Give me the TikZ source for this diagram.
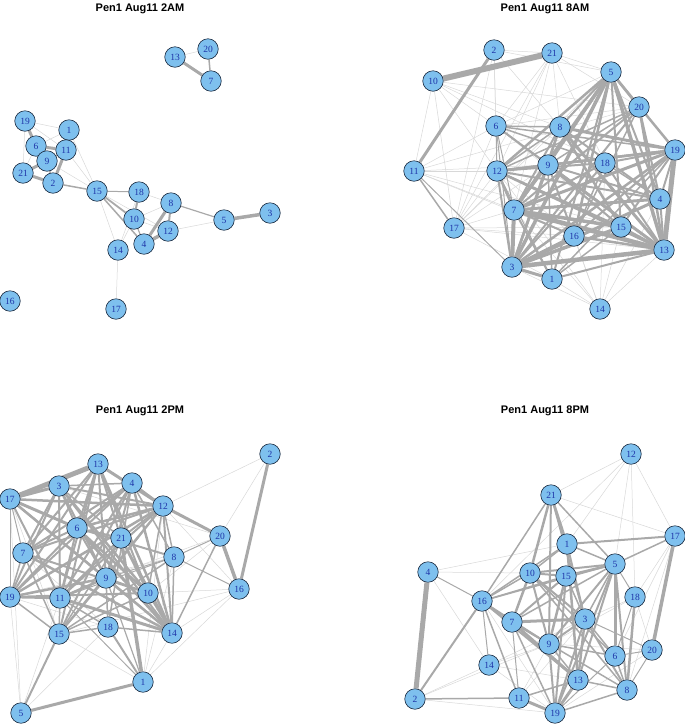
\documentclass[tikz,border=0pt]{standalone}
\usepackage{fontspec}
\setmainfont{Liberation Serif}
\newfontfamily\titlefont{Liberation Sans}
\usetikzlibrary{backgrounds}
\definecolor{vfill}{HTML}{7EC0EE}
\definecolor{vlab}{HTML}{1E34A8}
\definecolor{vline}{HTML}{1A2A40}
\definecolor{egray}{HTML}{A9A9A9}
\definecolor{elight}{HTML}{D8D8D8}
\tikzset{
  vtx/.style={circle, draw=vline, line width=0.6pt, fill=vfill, minimum size=20.5pt, inner sep=0pt, text=vlab, font=\fontsize{9.5}{9.5}\selectfont},
  ttl/.style={font=\titlefont\bfseries\fontsize{11}{13}\selectfont, text=black},
  thinedge/.style={draw=elight, line width=0.5pt},
  wedge/.style={draw=egray},
}
\begin{document}
\begin{tikzpicture}[x=1pt,y=-1pt]
\useasboundingbox (0,0) rectangle (685,724);
% ---------- Panel 1 : 2AM ----------
\node[ttl] (t1) at (140,9) {Pen1 Aug11 2AM};
\foreach \n/\x/\y in {13/175/57, 20/208/49, 7/211/81, 19/25/121, 1/69/130, 6/36/146, 11/66/150, 9/47/161, 21/23/173, 2/53/183, 15/97/191, 18/139/192, 8/171/203, 10/134/219, 12/168/231, 4/144/244, 14/118/250, 5/224/220, 3/270/213, 16/10/301, 17/116/309}
  \node[vtx] (A\n) at (\x,\y) {\n};
\begin{scope}[on background layer]
\foreach \a/\b in {13/20, 19/1, 19/21, 19/11, 1/6, 6/21, 11/15, 1/15, 9/15, 15/14, 15/12, 18/8, 10/14, 18/14, 10/8, 12/5, 14/17, 10/12}
  \draw[thinedge] (A\a) -- (A\b);
\foreach \a/\b/\w in {13/7/3, 20/7/1.5, 19/6/3, 1/11/1.2, 6/11/3, 6/9/3, 9/21/3, 9/2/1.5, 11/2/3, 21/2/3, 11/9/1.5, 2/15/1.5, 15/18/1, 15/10/1.8, 15/4/1.5, 18/10/2, 10/4/1.2, 8/4/3, 8/12/2, 12/4/3.5, 8/5/1.2, 5/3/3.5}
  \draw[wedge, line width=\w pt] (A\a) -- (A\b);
\end{scope}
% ---------- Panel 2 : 8AM ----------
\node[ttl] (t2) at (545,9) {Pen1 Aug11 8AM};
\foreach \n/\x/\y in {2/494/50, 21/552/53, 10/433/81, 5/611/72, 20/639/107, 6/496/126, 8/560/127, 19/675/150, 11/414/171, 12/497/171, 9/548/165, 18/605/163, 4/660/199, 7/514/210, 17/454/228, 16/574/236, 15/621/227, 13/664/250, 3/512/267, 1/552/279, 14/600/309}
  \node[vtx] (B\n) at (\x,\y) {\n};
\begin{scope}[on background layer]
\foreach \a/\b in {2/6, 2/12, 2/8, 2/21, 2/5, 2/17, 21/5, 21/6, 21/12, 21/8, 21/20, 21/18, 21/17, 21/7, 10/6, 10/17, 10/12, 10/11, 10/8, 10/18, 10/20, 11/6, 11/12, 11/9, 11/7, 11/20, 11/16, 11/15, 17/6, 17/12, 17/7, 17/16, 17/15, 17/13, 17/1, 17/9, 17/8, 17/5, 14/1, 14/3, 14/7, 14/16, 14/15, 14/13, 14/9, 14/18, 14/12, 14/4, 6/5, 6/20, 6/15, 12/16}
  \draw[thinedge] (B\a) -- (B\b);
\foreach \a/\b/\w in {10/21/6, 2/11/3, 5/7/3.5, 5/3/3.5, 5/13/3.5, 19/13/5, 3/13/4.5, 7/13/4.5, 3/7/4, 7/19/3, 7/4/3, 7/15/3.5, 3/15/3.5, 3/4/3, 9/13/3, 8/13/3, 12/13/2.5, 8/19/3, 12/19/2.5, 9/19/2.5, 5/20/2.5, 20/13/2.5, 20/4/2, 5/19/2.5, 5/16/2.5, 5/15/2, 5/9/2.5, 5/12/2.5, 5/8/2, 5/1/2, 5/4/2, 8/3/2.5, 8/15/2.5, 8/4/2, 9/3/2.5, 9/4/2, 9/15/2, 12/7/2.5, 12/3/2, 12/15/2, 12/4/2, 12/18/2, 18/3/2, 18/13/2, 18/7/2, 16/13/2.5, 16/3/3, 16/19/2, 1/13/2, 1/3/3, 1/19/1.5, 1/15/1.5, 7/16/2, 15/13/2.5, 15/19/2, 4/13/2, 4/19/2, 6/8/1.5, 6/13/2, 6/18/1.5, 6/9/1.5, 6/19/1.5, 6/12/1, 6/7/1, 6/3/1, 20/3/2, 20/7/2, 20/12/1.5, 20/9/1.5, 20/16/1.5, 8/9/1.5, 8/12/1.5, 8/7/2, 9/7/2, 9/16/2, 9/1/1.5, 18/19/2, 18/4/1.5, 18/16/1.5, 7/1/2, 12/1/1, 3/19/2.5, 11/17/1.5, 11/3/1, 12/9/2.5}
  \draw[wedge, line width=\w pt] (B\a) -- (B\b);
\end{scope}
% ---------- Panel 3 : 2PM ----------
\node[ttl] (t3) at (140,411) {Pen1 Aug11 2PM};
\foreach \n/\x/\y in {2/270/454, 13/98/464, 3/59/486, 4/132/483, 17/10/499, 12/163/506, 6/77/528, 21/121/538, 20/220/536, 7/23/553, 8/174/557, 9/106/578, 16/239/589, 19/10/597, 11/60/598, 10/148/593, 18/108/627, 15/59/634, 14/172/633, 1/143/682, 5/21/713}
  \node[vtx] (C\n) at (\x,\y) {\n};
\begin{scope}[on background layer]
\foreach \a/\b in {2/20, 2/12, 5/18, 5/19, 5/17, 1/14, 1/16, 1/15, 1/12, 14/16, 20/10, 12/16, 3/20, 8/19, 10/16, 19/18, 17/15, 7/18, 20/9, 16/15, 8/1, 5/11}
  \draw[thinedge] (C\a) -- (C\b);
\foreach \a/\b/\w in {17/13/5, 17/3/3, 13/12/3, 12/20/3, 20/16/3.5, 2/16/3, 5/1/3, 5/15/2, 1/21/3.5, 1/18/2, 1/9/1.2, 1/11/1, 17/6/3, 17/9/2, 17/14/2.5, 7/14/2.5, 7/12/2, 7/4/2, 7/10/2, 19/12/2.5, 19/4/2, 19/9/2.5, 19/11/2.5, 19/13/2, 19/6/2, 19/3/2, 19/10/2, 11/14/3, 11/21/2, 11/4/2, 11/12/2, 11/9/2.5, 11/15/1.5, 11/13/2, 11/3/2, 11/6/2, 6/14/3, 6/10/2.5, 6/12/2.5, 6/4/2.5, 6/13/2, 6/3/2, 6/21/2, 6/8/2, 6/9/2, 3/10/2.5, 3/14/2, 3/4/1.5, 3/12/2, 3/9/2, 3/21/1.5, 13/9/2, 13/21/2, 13/14/2.5, 13/10/2, 13/7/2, 13/15/2, 4/15/2, 4/9/2, 4/14/2.5, 4/18/1.5, 4/12/2, 4/8/1.5, 12/15/2, 12/9/2, 12/21/2, 12/14/2, 12/8/1.5, 12/10/1.5, 21/14/2.5, 21/10/2, 21/15/1.5, 21/9/1.5, 8/14/1.5, 8/16/1, 8/15/1.5, 8/9/1, 8/11/1, 9/15/2, 9/10/2, 9/14/2, 9/18/1.5, 10/14/2, 10/15/1.5, 18/14/1.5, 18/15/1.5, 18/11/1.5, 15/19/1.5, 15/7/1.5, 7/17/1, 7/19/1.5, 17/19/1, 14/20/1.5, 20/8/1, 17/12/2.5, 17/11/2, 7/6/2, 7/3/2}
  \draw[wedge, line width=\w pt] (C\a) -- (C\b);
\end{scope}
% ---------- Panel 4 : 8PM ----------
\node[ttl] (t4) at (545,411) {Pen1 Aug11 8PM};
\foreach \n/\x/\y in {12/631/454, 21/551/495, 17/675/536, 1/567/544, 4/428/572, 5/615/564, 10/530/573, 15/566/576, 16/482/601, 18/635/597, 7/512/622, 3/585/619, 9/549/644, 6/615/656, 20/652/650, 14/489/665, 13/578/680, 8/627/690, 2/415/699, 11/519/698, 19/555/713}
  \node[vtx] (D\n) at (\x,\y) {\n};
\begin{scope}[on background layer]
\foreach \a/\b in {12/21, 12/1, 12/18, 12/17, 12/5, 21/17, 4/10, 4/14, 2/14, 14/9, 14/3, 11/9, 17/18, 17/8, 17/6, 18/20, 18/3, 18/9, 19/2, 19/20, 14/13, 14/19, 2/9, 11/3, 16/19, 20/9, 12/16, 4/1}
  \draw[thinedge] (D\a) -- (D\b);
\foreach \a/\b/\w in {4/2/5, 17/20/3.5, 5/6/3, 5/8/2, 18/8/2.5, 21/10/2.5, 21/1/2.5, 21/9/2, 21/16/1.5, 21/3/2, 21/5/1.5, 1/17/2, 1/13/2.5, 1/3/2, 1/10/1.5, 1/16/1.5, 5/17/1.5, 5/15/2.5, 5/10/2, 5/16/1.5, 5/9/2, 5/7/1.5, 5/19/2, 5/13/2, 5/3/1.5, 5/18/1, 10/7/2.5, 10/9/2, 10/3/2, 10/6/1.5, 10/8/1.5, 10/15/2, 10/16/1.5, 15/7/2, 15/9/2.5, 15/19/2, 15/3/1.5, 15/16/1.5, 16/7/2, 16/13/2, 16/2/2, 16/11/1.5, 16/4/1, 16/14/1, 16/9/1.5, 7/3/3, 7/13/3, 7/9/2, 7/19/1.5, 7/8/1.5, 3/13/2.5, 3/19/2, 3/8/2, 3/6/1.5, 3/9/2, 3/20/1, 9/19/2, 9/13/1.5, 9/6/1.5, 13/19/3, 13/11/1.5, 13/8/1.5, 11/19/3, 11/2/1.5, 19/6/1, 19/8/1.5, 6/8/1.5, 6/20/1, 8/20/1, 11/7/1, 1/5/1.5, 18/6/1}
  \draw[wedge, line width=\w pt] (D\a) -- (D\b);
\end{scope}
\end{tikzpicture}
\end{document}
